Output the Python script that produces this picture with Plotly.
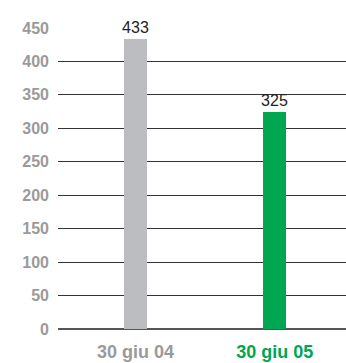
import plotly.graph_objects as go

categories = ["30 giu 04", "30 giu 05"]
values = [433, 325]
bar_colors = ["#BCBDC0", "#00A650"]
label_colors = ["#9A9A9A", "#00A650"]
y_ticks = [0, 50, 100, 150, 200, 250, 300, 350, 400, 450]

fig = go.Figure()
fig.add_trace(go.Bar(
    x=[0, 1], y=values,
    marker=dict(color=bar_colors, line=dict(width=0)),
    width=0.165,
    text=[str(v) for v in values], textposition="outside",
    constraintext="none",
    textfont=dict(family="Liberation Sans, Arial", size=16, color="#222222"),
    cliponaxis=False,
))
fig.update_layout(
    width=346, height=363,
    margin=dict(l=58, r=0, t=28, b=34),
    plot_bgcolor="white", paper_bgcolor="white",
    showlegend=False,
    bargap=0,
    xaxis=dict(
        range=[-0.557, 1.512],
        tickvals=[0, 1],
        ticktext=[f"<span style='color:{c}'><b>{t}</b></span>" for t, c in zip(categories, label_colors)],
        tickfont=dict(family="Liberation Sans, Arial", size=18),
        showgrid=False, zeroline=False, showline=False,
        ticks="", ticklabelstandoff=10,
    ),
    yaxis=dict(
        range=[0, 450],
        tickvals=y_ticks,
        tickfont=dict(family="Liberation Sans, Arial", size=16, color="#9A9A9A", weight="bold"),
        showgrid=True, gridcolor="#333333", gridwidth=1,
        zeroline=True, zerolinecolor="#555555", zerolinewidth=2,
        showline=False, ticks="", ticklabelstandoff=8,
    ),
)
fig.write_html("out.html")
